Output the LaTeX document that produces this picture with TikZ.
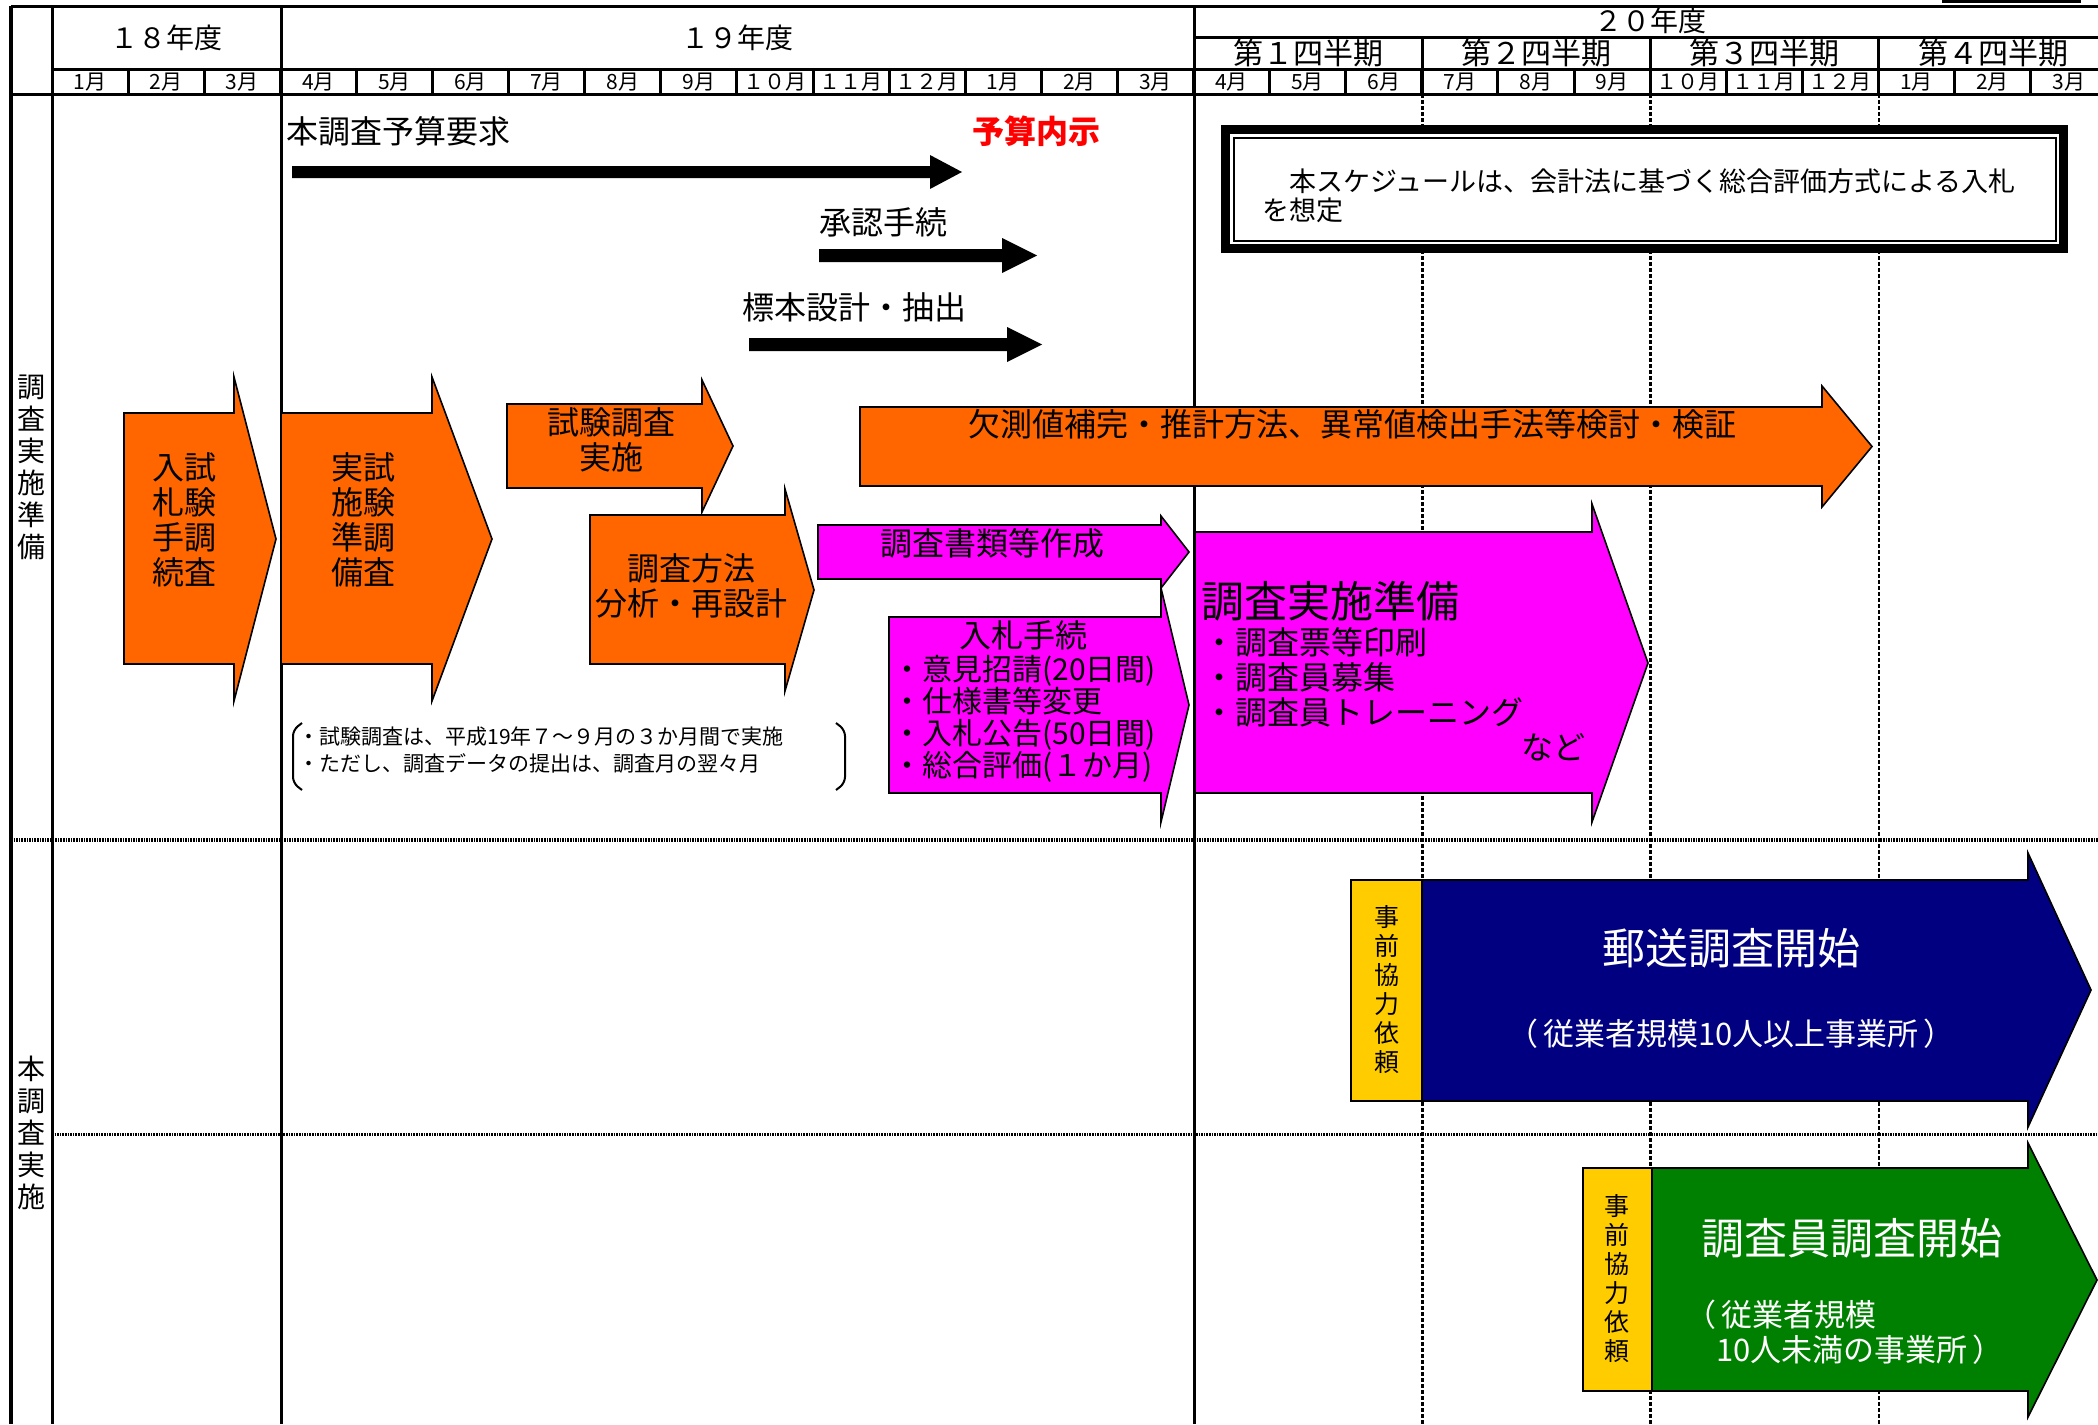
\documentclass[tikz,border=0pt]{standalone}
\usepackage{fontspec}
\setmainfont{Noto Sans CJK JP}
\definecolor{barorange}{RGB}{255,102,0}
\definecolor{barmagenta}{RGB}{255,0,255}
\definecolor{barnavy}{RGB}{0,0,128}
\definecolor{bargreen}{RGB}{0,128,0}
\definecolor{baryellow}{RGB}{255,204,0}

\begin{document}
\begin{tikzpicture}[x=0.5pt, y=-0.5pt,
    gridline/.style={line width=1.5pt},
    quarterline/.style={line width=1.25pt, dash pattern=on 2pt off 1pt},
    rowline/.style={line width=1.6pt, dash pattern=on 0.8pt off 0.5pt},
    yeartext/.style={inner sep=0pt, font=\fontsize{14pt}{16pt}\selectfont},
    quartertext/.style={inner sep=0pt, font=\fontsize{15pt}{16pt}\selectfont},
    monthtext/.style={inner sep=0pt, font=\fontsize{10.5pt}{12pt}\selectfont},
    rowtext/.style={inner sep=0pt, align=center, font=\fontsize{14pt}{16pt}\selectfont},
    bartext/.style={inner sep=0pt, align=center, font=\fontsize{16pt}{17.5pt}\selectfont},
    listtext/.style={inner sep=0pt, align=left, font=\fontsize{15pt}{16pt}\selectfont},
    bigtext/.style={inner sep=0pt, font=\fontsize{21.5pt}{24pt}\selectfont},
    subtext/.style={inner sep=0pt, align=left, text=white, font=\fontsize{15.5pt}{17.5pt}\selectfont},
    notetext/.style={inner sep=0pt, align=left, font=\fontsize{10.5pt}{13.5pt}\selectfont},
    boxtext/.style={inner sep=0pt, align=left, font=\fontsize{13.5pt}{14.5pt}\selectfont},
    asktext/.style={inner sep=0pt, align=center, font=\fontsize{12.5pt}{14.5pt}\selectfont},
    plan/.style={fill=black},
    orangebar/.style={draw=black, line width=0.8pt, fill=barorange},
    magentabar/.style={draw=black, line width=0.8pt, fill=barmagenta},
    navybar/.style={draw=black, line width=0.8pt, fill=barnavy},
    greenbar/.style={draw=black, line width=0.8pt, fill=bargreen},
    askbox/.style={draw=black, line width=0.8pt, fill=baryellow}
]
    \useasboundingbox (0,0) rectangle (2098,1424);
    \fill[white] (0,0) rectangle (2098,1424);

    % table frame
    \draw[gridline] (11,6) -- (2098,6);
    \draw[line width=2pt] (11,6) -- (11,1424);
    \draw[gridline] (52,6) -- (52,1424);
    \draw[gridline] (281,6) -- (281,1424);
    \draw[gridline] (1194,6) -- (1194,1424);
    \draw[gridline] (1194,37) -- (2098,37);
    \draw[gridline] (52,69.5) -- (2098,69.5);
    \draw[gridline] (11,94) -- (2098,94);
    \draw[gridline] (1942,1.5) -- (2079,1.5) -- (2079,0);
    \foreach \i in {1,...,26}
        \draw[gridline] ({52+76.1*\i},69.5) -- ({52+76.1*\i},94);
    \foreach \i in {1,2,3} {
        \draw[gridline] ({1194+228.3*\i},37) -- ({1194+228.3*\i},94);
        \draw[quarterline] ({1194+228.3*\i},94) -- ({1194+228.3*\i},1424);
    }
    \draw[rowline] (11,840) -- (2098,840);
    \draw[rowline] (52,1134.5) -- (2098,1134.5);

    % header
    \node[yeartext] (fy18) at (166,38) {１８年度};
    \node[yeartext] (fy19) at (737,38) {１９年度};
    \node[yeartext] (fy20) at (1650,21) {２０年度};
    \foreach \qn [count=\i from 0] in {１,２,３,４}
        \node[quartertext] (q\i) at ({1194+228.3*(\i+0.5)},53) {第\qn 四半期};
    \foreach \lab [count=\i from 0] in {1月,2月,3月,4月,5月,6月,7月,8月,9月,１０月,１１月,１２月,1月,2月,3月,4月,5月,6月,7月,8月,9月,１０月,１１月,１２月,1月,2月,3月}
        \node[monthtext] (m\i) at ({52+76.1*(\i+0.5)},82) {\lab};
    \node[rowtext] (prep) at (32,467) {調\\査\\実\\施\\準\\備};
    \node[rowtext] (main) at (32,1133) {本\\調\\査\\実\\施};

    % budget steps
    \fill[plan] (292,166) -- (930,166) -- (930,155) -- (962,172) -- (930,189) -- (930,178) -- (292,178) -- cycle;
    \fill[plan] (819,249) -- (1002,249) -- (1002,238) -- (1037,255.5) -- (1002,273) -- (1002,262) -- (819,262) -- cycle;
    \fill[plan] (749,338) -- (1007,338) -- (1007,327) -- (1042,344.5) -- (1007,362) -- (1007,351) -- (749,351) -- cycle;
    \node[bartext, anchor=west] (budget) at (286,131) {本調査予算要求};
    \node[bartext, text=red, font=\fontsize{16pt}{17.5pt}\selectfont\bfseries] (notice) at (1036,131) {予算内示};
    \node[bartext] (approval) at (883,222) {承認手続};
    \node[bartext] (sample) at (854,307) {標本設計・抽出};

    % preparation
    \draw[orangebar] (124,413) -- (234,413) -- (234,377) -- (276,539) -- (234,701) -- (234,664) -- (124,664) -- cycle;
    \draw[orangebar] (281,413) -- (432,413) -- (432,377) -- (492,539) -- (432,701) -- (432,664) -- (281,664) -- cycle;
    \draw[orangebar] (507,404) -- (702,404) -- (702,380) -- (733,446) -- (702,512) -- (702,488) -- (507,488) -- cycle;
    \draw[orangebar] (590,515) -- (785,515) -- (785,489) -- (814,590) -- (785,691) -- (785,664) -- (590,664) -- cycle;
    \draw[orangebar] (860,407) -- (1822,407) -- (1822,386) -- (1872,446.5) -- (1822,507) -- (1822,486) -- (860,486) -- cycle;
    \draw[magentabar] (818,525) -- (1161,525) -- (1161,516) -- (1189,552) -- (1161,588) -- (1161,579) -- (818,579) -- cycle;
    \draw[magentabar] (889,617) -- (1161,617) -- (1161,588) -- (1189,705) -- (1161,822) -- (1161,793) -- (889,793) -- cycle;
    \draw[magentabar] (1195,532) -- (1592,532) -- (1592,504) -- (1648,663) -- (1592,822) -- (1592,793) -- (1195,793) -- cycle;
    \node[bartext] (pilotbid) at (184,520) {入試\\札験\\手調\\続査};
    \node[bartext] (pilotprep) at (363,520) {実試\\施験\\準調\\備査};
    \node[bartext] (pilot) at (611,440) {試験調査\\実施};
    \node[bartext] (redesign) at (691,586) {調査方法\\分析・再設計};
    \node[bartext] (imputation) at (1352,424) {欠測値補完・推計方法、異常値検出手法等検討・検証};
    \node[bartext] (forms) at (992,543) {調査書類等作成};
    \node[bartext] (bid) at (1023,635) {入札手続};
    \node[listtext, anchor=west] (bidlist) at (892,718.5) {・意見招請(20日間)\\・仕様書等変更\\・入札公告(50日間)\\・総合評価(１か月)};
    \node[bigtext, anchor=west] (ready) at (1201,601) {調査実施準備};
    \node[bartext, align=left, anchor=west] (readylist) at (1203,677) {・調査票等印刷\\・調査員募集\\・調査員トレーニング};
    \node[bartext] (etc) at (1553,747) {など};

    % pilot note
    \draw[line width=1pt, rounded corners=3pt] (302,723) -- (293,730) -- (293,783) -- (302,790);
    \draw[line width=1pt, rounded corners=3pt] (836,723) -- (845,730) -- (845,783) -- (836,790);
    \node[notetext, anchor=west] (pilotnote) at (298,750.5) {・試験調査は、平成19年７～９月の３か月間で実施\\・ただし、調査データの提出は、調査月の翌々月};

    % bidding note
    \draw[line width=4.5pt, fill=white] (1225.5,129.5) rectangle (2063.5,248.5);
    \draw[line width=1pt] (1234,138) rectangle (2056,241);
    \node[boxtext, anchor=west] (schedule) at (1262,195.5) {　本スケジュールは、会計法に基づく総合評価方式による入札\\を想定};

    % main survey
    \draw[navybar] (1422,880) -- (2028,880) -- (2028,853) -- (2091,990) -- (2028,1127) -- (2028,1101) -- (1422,1101) -- cycle;
    \draw[greenbar] (1652,1168) -- (2028,1168) -- (2028,1143) -- (2097,1280) -- (2028,1417) -- (2028,1391) -- (1652,1391) -- cycle;
    \draw[askbox] (1351,880) rectangle (1422,1101);
    \draw[askbox] (1583,1168) rectangle (1652,1391);
    \node[asktext] (ask1) at (1387,990) {事\\前\\協\\力\\依\\頼};
    \node[asktext] (ask2) at (1617,1279) {事\\前\\協\\力\\依\\頼};
    \node[bigtext, text=white] (mail) at (1731,948) {郵送調査開始};
    \node[subtext] (mailsize) at (1731,1034) {（\,従業者規模10人以上事業所\,）};
    \node[bigtext, text=white] (visit) at (1852,1238) {調査員調査開始};
    \node[subtext, anchor=west] (visitsize) at (1685,1332.5) {（\,従業者規模\\　10人未満の事業所\,）};
\end{tikzpicture}
\end{document}
